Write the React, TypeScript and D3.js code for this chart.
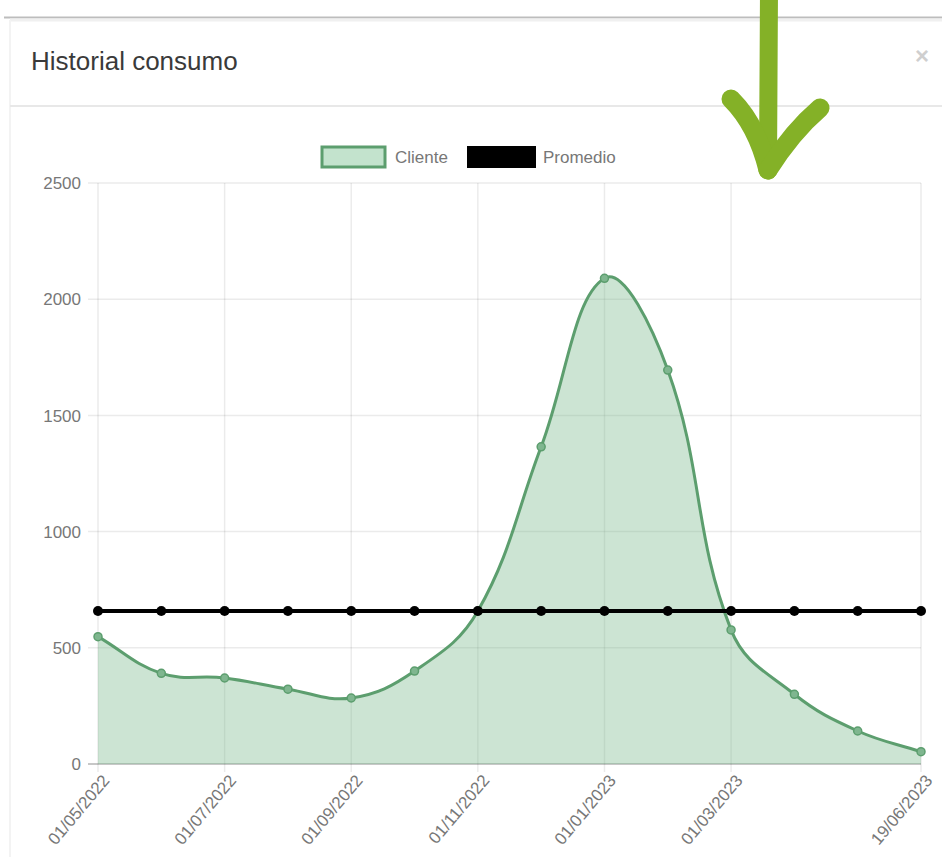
import React from "react";
import * as d3 from "d3";

const categories = [
  "01/05/2022", "01/06/2022", "01/07/2022", "01/08/2022", "01/09/2022", "01/10/2022",
  "01/11/2022", "01/12/2022", "01/01/2023", "01/02/2023", "01/03/2023", "01/04/2023",
  "01/05/2023", "19/06/2023",
];
const clienteValues = [548, 390, 370, 322, 284, 400, 658, 1365, 2090, 1695, 577, 300, 142, 53];
const promedioValues = [658, 658, 658, 658, 658, 658, 658, 658, 658, 658, 658, 658, 658, 658];
const xTickLabels = ["01/05/2022", "01/07/2022", "01/09/2022", "01/11/2022", "01/01/2023", "01/03/2023", "19/06/2023"];
const yTicks = [0, 500, 1000, 1500, 2000, 2500];
const legendItems = ["Cliente", "Promedio"];

const W = 942, H = 857;
const area = { left: 98, right: 921, top: 183, bottom: 764 };

function splinePath(pts: { x: number; y: number }[], t: number, close?: number) {
  const n = pts.length;
  const cps = pts.map((cur, i) => {
    const prev = pts[i - 1] || cur;
    const next = pts[i + 1] || cur;
    const d01 = Math.hypot(cur.x - prev.x, cur.y - prev.y);
    const d12 = Math.hypot(next.x - cur.x, next.y - cur.y);
    let s01 = d01 / (d01 + d12);
    let s12 = d12 / (d01 + d12);
    if (isNaN(s01)) s01 = 0;
    if (isNaN(s12)) s12 = 0;
    const fa = t * s01, fb = t * s12;
    const clampY = (v: number) => Math.max(area.top, Math.min(area.bottom, v));
    const clampX = (v: number) => Math.max(area.left, Math.min(area.right, v));
    return {
      p: { x: clampX(cur.x - fa * (next.x - prev.x)), y: clampY(cur.y - fa * (next.y - prev.y)) },
      n: { x: clampX(cur.x + fb * (next.x - prev.x)), y: clampY(cur.y + fb * (next.y - prev.y)) },
    };
  });
  const p = d3.path();
  p.moveTo(pts[0].x, pts[0].y);
  for (let i = 1; i < n; i++) {
    p.bezierCurveTo(cps[i - 1].n.x, cps[i - 1].n.y, cps[i].p.x, cps[i].p.y, pts[i].x, pts[i].y);
  }
  if (close !== undefined) {
    p.lineTo(pts[n - 1].x, close);
    p.lineTo(pts[0].x, close);
    p.closePath();
  }
  return p.toString();
}

export default function App() {
  const x = d3.scalePoint<string>().domain(categories).range([area.left, area.right]);
  const y = d3.scaleLinear().domain([0, 2500]).range([area.bottom, area.top]);
  const clientePts = clienteValues.map((v, i) => ({ x: x(categories[i])!, y: y(v) }));
  const promPts = promedioValues.map((v, i) => ({ x: x(categories[i])!, y: y(v) }));
  const promLine = d3.line<{ x: number; y: number }>().x((d) => d.x).y((d) => d.y)(promPts)!;
  const font = "'Liberation Sans', Arial, Helvetica, sans-serif";
  const green = "#5c9e6e";
  const fill = "rgba(120, 185, 140, 0.38)";

  return (
    <div style={{ position: "absolute", left: 0, top: 0, width: W, height: H, background: "#fff" }}>
      <svg width={W} height={H} style={{ display: "block" }} fontFamily={font}>
        <rect x={0} y={0} width={W} height={H} fill="#fff" />
        {/* modal frame */}
        <line x1={4} x2={W} y1={17.5} y2={17.5} stroke="#bdbdbd" strokeWidth={2} />
        <line x1={10} x2={W} y1={20} y2={20} stroke="#f0f0f0" strokeWidth={3} />
        <line x1={10} x2={10} y1={20} y2={H} stroke="#f3f3f3" strokeWidth={2} />
        <text x={31} y={70} fontSize={26} fill="#3a3a3a">Historial consumo</text>
        <text x={922} y={64} fontSize={24} fontWeight="bold" fill="#cfcfcf" textAnchor="middle">×</text>
        <line x1={10} x2={W} y1={106} y2={106} stroke="#e8e8e8" strokeWidth={2} />

        {/* legend */}
        <rect x={322} y={147} width={63} height={20} fill="#c3e3cd" stroke={green} strokeWidth={3} />
        <text x={395} y={163} fontSize={17} fill="#777">{legendItems[0]}</text>
        <rect x={467} y={146} width={69} height={22} fill="#000" />
        <text x={543} y={163} fontSize={17} fill="#777">{legendItems[1]}</text>

        {/* grid */}
        {yTicks.map((t) => (
          <g key={"y" + t}>
            <line x1={area.left - 10} x2={area.right} y1={y(t)} y2={y(t)} stroke={t === 0 ? "rgba(0,0,0,0.22)" : "rgba(0,0,0,0.08)"} strokeWidth={t === 0 ? 2 : 1.5} />
            <text x={81} y={y(t)} dy="0.36em" fontSize={17} fill="#777" textAnchor="end">{t}</text>
          </g>
        ))}
        {categories.filter((c) => xTickLabels.includes(c)).map((c) => (
          <g key={"x" + c}>
            <line x1={x(c)} x2={x(c)} y1={area.top} y2={area.bottom + 8} stroke="rgba(0,0,0,0.08)" strokeWidth={1.5} />
            <text transform={`translate(${x(c)! + 3},${area.bottom + 9}) rotate(-50)`} fontSize={17} fill="#777" textAnchor="end" dy="0.72em">{c}</text>
          </g>
        ))}

        {/* Cliente */}
        <path d={splinePath(clientePts, 0.4, y(0))} fill={fill} stroke="none" />
        <path d={splinePath(clientePts, 0.4)} fill="none" stroke={green} strokeWidth={3} />
        {clientePts.map((p, i) => (
          <circle key={"c" + i} cx={p.x} cy={p.y} r={4} fill="#7fb68f" stroke={green} strokeWidth={1.5} />
        ))}

        {/* Promedio */}
        <path d={promLine} fill="none" stroke="#000" strokeWidth={4} />
        {promPts.map((p, i) => (
          <circle key={"p" + i} cx={p.x} cy={p.y} r={5} fill="#000" />
        ))}

        {/* arrow annotation */}
        <g stroke="#84b127" strokeLinecap="round" fill="none">
          <path d="M769,-10 L768,168" strokeWidth={18} />
          <path d="M731,99 Q757,125 768,170" strokeWidth={19} />
          <path d="M820,108 Q792,132 768,170" strokeWidth={19} />
        </g>
      </svg>
    </div>
  );
}
